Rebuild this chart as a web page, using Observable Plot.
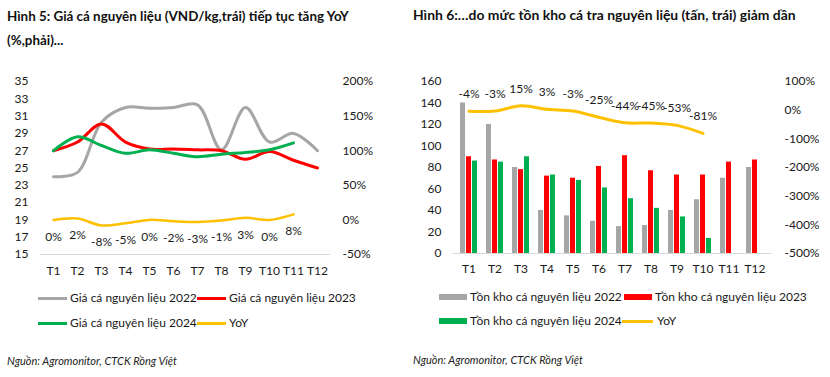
<!DOCTYPE html>
<html><head><meta charset="utf-8">
<script src="https://cdn.jsdelivr.net/npm/d3@7"></script>
<script src="https://cdn.jsdelivr.net/npm/@observablehq/plot@0.6"></script>
<style>
body{margin:0;background:#fff;font-family:Lato,"Open Sans",sans-serif;color:#1a1a1a;}
#root{position:relative;width:830px;height:377px;overflow:hidden;}
.abs{position:absolute;white-space:nowrap;}
.title{font-weight:bold;font-size:13.4px;line-height:24px;color:#111;}
.leg{font-size:12px;line-height:16px;color:#1a1a1a;}
.src{font-size:11px;font-style:italic;line-height:14px;color:#222;}
</style></head>
<body><div id="root"></div>
<script>
// ---------- DATA ----------
const months = ["T1","T2","T3","T4","T5","T6","T7","T8","T9","T10","T11","T12"];
// Chart 1: raw fish price (VND/kg thousand, left) and YoY (% right)
const price2022 = [24, 24.5, 30.3, 32, 31.9, 32, 32.3, 27.1, 32, 28, 29, 27];
const price2023 = [27, 28, 30.1, 28, 27.2, 27.2, 27.1, 27, 26, 26.9, 25.9, 25];
const price2024 = [27, 28.6, 27.6, 26.7, 27.1, 26.7, 26.3, 26.6, 26.8, 27.1, 27.9];
const priceYoY = [0, 2, -8, -5, 0, -2, -3, -1, 3, 0, 8];
const priceLeftTicks = [15, 17, 19, 21, 23, 25, 27, 29, 31, 33, 35];
const priceRightTicks = [-50, 0, 50, 100, 150, 200];
const priceLegend = ["Giá cá nguyên liệu 2022", "Giá cá nguyên liệu 2023", "Giá cá nguyên liệu 2024", "YoY"];
// Chart 2: raw fish inventory (tons, left) and YoY (% right)
const stock2022 = [140, 120, 80, 40, 35, 30, 25, 26, 40, 50, 70, 80];
const stock2023 = [90, 87, 78, 72, 70, 81, 91, 77, 73, 73, 85, 87];
const stock2024 = [86, 85, 90, 73, 68, 61, 51, 42, 34, 14];
const stockYoY = [-4, -3, 15, 3, -3, -25, -44, -45, -53, -81];
const stockLeftTicks = [0, 20, 40, 60, 80, 100, 120, 140, 160];
const stockRightTicks = [100, 0, -100, -200, -300, -400, -500];
const stockLegend = ["Tồn kho cá nguyên liệu 2022", "Tồn kho cá nguyên liệu 2023", "Tồn kho cá nguyên liệu 2024", "YoY"];
const title1a = "Hình 5: Giá cá nguyên liệu (VND/kg,trái) tiếp tục tăng YoY";
const title1b = "(%,phải)...";
const title2 = "Hình 6:…do mức tồn kho cá tra nguyên liệu (tấn, trái) giảm dần";
const source = "Nguồn: Agromonitor, CTCK Rồng Việt";

const C = {gray:"#A6A6A6", red:"#FF0000", green:"#00B050", yellow:"#FFC000"};
const root = document.getElementById("root");
function addDiv(cls, html, left, top){
  const d = document.createElement("div");
  d.className = "abs " + cls; d.innerHTML = html;
  d.style.left = left + "px"; d.style.top = top + "px";
  root.appendChild(d); return d;
}
const rows = arr => months.slice(0, arr.length).map((m, i) => ({m, v: arr[i]}));

// ---------- Chart 1 ----------
addDiv("title", title1a + "<br>" + title1b, 7, 4);
const toL1 = p => 15 + (p + 50) * 20 / 250;
const yoy1 = rows(priceYoY);
const chart1 = Plot.plot({
  width: 410, height: 220, marginTop: 21, marginBottom: 26, marginLeft: 40, marginRight: 80,
  style: {fontFamily: "Lato, 'Open Sans', sans-serif", fontSize: "12px", color: "#1a1a1a", background: "transparent"},
  x: {type: "band", domain: months, padding: 0, label: null},
  y: {domain: [15, 35], label: null},
  marks: [
    Plot.ruleY([15], {stroke: "#D9D9D9", strokeWidth: 1}),
    Plot.axisY(priceLeftTicks, {anchor: "left", tickSize: 0, tickPadding: 12, label: null}),
    Plot.axisY(priceRightTicks.map(toL1), {anchor: "right", tickSize: 0, tickPadding: 12, label: null,
      tickFormat: d => Math.round((d - 15) * 250 / 20 - 50) + "%"}),
    Plot.axisX({tickSize: 0, tickPadding: 12, label: null}),
    Plot.line(rows(price2022), {x: "m", y: "v", stroke: C.gray, strokeWidth: 3, curve: "catmull-rom"}),
    Plot.line(rows(price2023), {x: "m", y: "v", stroke: C.red, strokeWidth: 3, curve: "catmull-rom"}),
    Plot.line(rows(price2024), {x: "m", y: "v", stroke: C.green, strokeWidth: 3, curve: "catmull-rom"}),
    Plot.line(yoy1, {x: "m", y: d => toL1(d.v), stroke: C.yellow, strokeWidth: 2.5, curve: "catmull-rom"}),
    Plot.text(yoy1, {x: "m", y: d => toL1(d.v), text: d => d.v + "%", dy: 17, fill: "#1a1a1a"})
  ]
});
chart1.style.position = "absolute"; chart1.style.left = "0px"; chart1.style.top = "60px";
root.appendChild(chart1);

// legend 1
function lineLegend(x, y, color, label, sw){
  const s = document.createElement("div");
  s.className = "abs"; s.style.left = x + "px"; s.style.top = (y - sw/2) + "px";
  s.style.width = "29px"; s.style.height = sw + "px"; s.style.background = color;
  root.appendChild(s);
  addDiv("leg", label, x + 32, y - 8);
}
lineLegend(38, 298, C.gray, priceLegend[0], 3);
lineLegend(197, 298, C.red, priceLegend[1], 3);
lineLegend(38, 323, C.green, priceLegend[2], 3);
lineLegend(197, 323, C.yellow, priceLegend[3], 3);
addDiv("src", source, 7, 354);

// ---------- Chart 2 ----------
addDiv("title", title2, 413, 3).style.fontSize = "13.9px";
const toL2 = p => (p + 500) * 160 / 600;
const yoy2 = rows(stockYoY);
const chart2 = Plot.plot({
  width: 415, height: 220, marginTop: 21, marginBottom: 27, marginLeft: 37, marginRight: 58,
  style: {fontFamily: "Lato, 'Open Sans', sans-serif", fontSize: "12px", color: "#1a1a1a", background: "transparent"},
  x: {type: "band", domain: months, paddingInner: 0.8, paddingOuter: 0.4, label: null},
  y: {domain: [0, 160], label: null},
  marks: [
    Plot.barY(rows(stock2022), {x: "m", y: "v", fill: C.gray, dx: -6}),
    Plot.barY(rows(stock2023), {x: "m", y: "v", fill: C.red, dx: 0}),
    Plot.barY(rows(stock2024), {x: "m", y: "v", fill: C.green, dx: 6}),
    Plot.ruleY([0], {stroke: "#D9D9D9", strokeWidth: 1}),
    Plot.axisY(stockLeftTicks, {anchor: "left", tickSize: 0, tickPadding: 11, label: null}),
    Plot.axisY(stockRightTicks.map(toL2), {anchor: "right", tickSize: 0, tickPadding: 12, label: null,
      tickFormat: d => Math.round(d * 600 / 160 - 500) + "%"}),
    Plot.axisX({tickSize: 0, tickPadding: 11, label: null}),
    Plot.line(yoy2, {x: "m", y: d => toL2(d.v), stroke: C.yellow, strokeWidth: 3, curve: "catmull-rom"}),
    Plot.text(yoy2, {x: "m", y: d => toL2(d.v), text: d => d.v + "%", dy: -17, fill: "#1a1a1a"})
  ]
});
chart2.style.position = "absolute"; chart2.style.left = "415px"; chart2.style.top = "60px";
root.appendChild(chart2);

function barLegend(x, y, color, label){
  const s = document.createElement("div");
  s.className = "abs"; s.style.left = x + "px"; s.style.top = (y - 3) + "px";
  s.style.width = "28px"; s.style.height = "6px"; s.style.background = color;
  root.appendChild(s);
  addDiv("leg", label, x + 31, y - 8);
}
barLegend(439, 297, C.gray, stockLegend[0]);
barLegend(624, 297, C.red, stockLegend[1]);
barLegend(439, 321, C.green, stockLegend[2]);
(function(){
  const s = document.createElement("div");
  s.className = "abs"; s.style.left = "622px"; s.style.top = "320px";
  s.style.width = "31px"; s.style.height = "3px"; s.style.background = C.yellow;
  root.appendChild(s);
  addDiv("leg", stockLegend[3], 657, 313);
})();
addDiv("src", source, 413, 353);
</script>
</body></html>
